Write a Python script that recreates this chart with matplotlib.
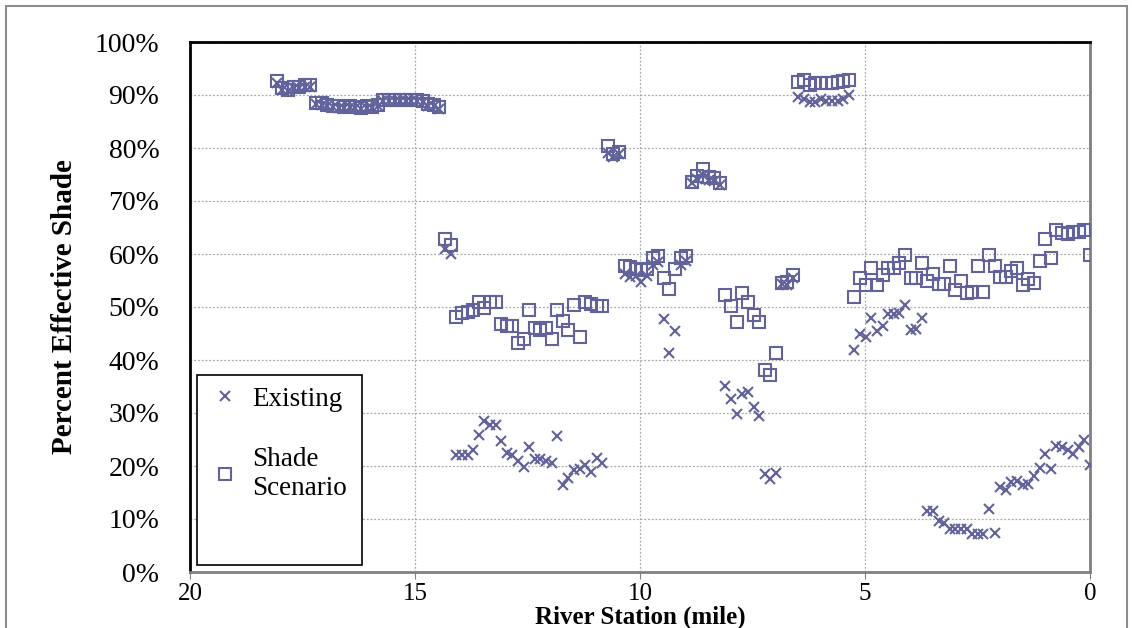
import numpy as np
import matplotlib
matplotlib.use("Agg")
import matplotlib.pyplot as plt
from matplotlib.patches import Rectangle
from matplotlib.ticker import PercentFormatter

# river stations (mile), evenly spaced sample points from upstream to mouth
station = np.linspace(18.07, 0.0, 146)

# percent effective shade (upstream -> downstream)
existing = [
    92.3, 91.0, 90.7, 91.3, 91.4, 91.6, 91.5, 88.3, 88.2, 87.9, 87.7, 87.6, 87.6, 87.7, 87.6,
    87.4, 87.6, 87.6, 87.9, 88.8, 88.8, 88.8, 88.8, 88.8, 88.8, 88.8, 88.6, 88.0, 87.9, 87.4,
    61.0, 60.0,
    22.0, 22.0, 22.0, 23.0, 25.8, 28.5, 27.8, 27.8, 24.8, 22.4, 22.0, 21.0, 19.9, 23.6, 21.3,
    21.3, 21.0, 20.6, 25.7, 16.5, 17.8, 19.2, 19.5, 20.2, 18.8, 21.6, 20.6,
    79.0, 78.3, 78.8,
    56.2, 55.6, 55.8, 54.8, 55.8, 58.0, 58.5, 47.7, 41.3, 45.5, 57.9, 58.6,
    73.4, 74.2, 75.0, 74.0, 73.8, 73.0,
    35.1, 32.7, 29.8, 33.6, 33.9, 31.2, 29.4, 18.5, 17.5, 18.7,
    54.3, 54.2, 55.4,
    89.7, 89.3, 88.6, 88.6, 89.2, 88.9, 88.9, 88.9, 89.2, 90.0,
    41.8, 45.0, 44.3, 47.9, 45.4, 46.4, 48.6, 48.6, 48.8, 50.3, 45.6, 45.9, 47.9,
    11.6, 11.6, 9.7, 9.3, 8.1, 8.1, 8.1, 8.1, 7.2, 7.2, 7.2, 11.9, 7.4, 16.1, 15.4,
    16.9, 17.1, 16.4, 16.6, 18.1, 19.7, 22.3, 19.4, 23.8, 23.5, 23.0, 22.3, 23.5, 25.0, 20.2,
]
shade_scenario = [
    92.6, 91.3, 90.9, 91.6, 91.6, 91.9, 91.8, 88.5, 88.5, 88.1, 87.9, 87.9, 87.8, 87.9, 87.8,
    87.6, 87.9, 87.8, 88.1, 89.0, 89.0, 89.0, 89.0, 89.0, 89.0, 89.0, 88.8, 88.3, 88.2, 87.7,
    62.9, 61.7,
    48.2, 48.9, 49.1, 49.4, 51.0, 49.8, 51.0, 51.0, 46.8, 46.4, 46.4, 43.3, 43.9, 49.4, 46.1,
    45.6, 46.1, 43.9, 49.4, 47.4, 45.6, 50.3, 44.3, 51.0, 50.5, 50.1, 50.1,
    80.3, 78.9, 79.3,
    57.7, 57.5, 57.2, 57.0, 57.2, 59.3, 59.6, 55.5, 53.4, 57.2, 59.3, 59.6,
    73.6, 74.8, 76.0, 74.6, 74.3, 73.4,
    52.2, 50.1, 47.2, 52.6, 51.0, 48.4, 47.2, 38.1, 37.2, 41.3,
    54.6, 54.8, 56.0,
    92.4, 92.8, 91.9, 92.2, 92.2, 92.2, 92.2, 92.4, 92.6, 92.8,
    51.9, 55.5, 54.1, 57.4, 54.1, 56.1, 57.4, 57.4, 58.3, 59.9, 55.4, 55.4, 58.3,
    55.0, 56.2, 54.3, 54.3, 57.8, 53.3, 55.0, 52.6, 52.8, 57.8, 52.8, 59.9, 57.8, 55.7, 55.7,
    56.8, 57.4, 54.1, 55.2, 54.6, 58.7, 62.8, 59.2, 64.5, 64.0, 63.7, 64.2, 64.2, 64.5, 59.9,
]

x_ticks = [20, 15, 10, 5, 0]
y_ticks = list(range(0, 101, 10))

plt.rcParams['font.family'] = ['Liberation Serif', 'DejaVu Serif']
color = '#62629C'

fig = plt.figure(figsize=(11.32, 6.28), dpi=100)
ax = fig.add_axes([190 / 1132, 1 - 572 / 628, 900 / 1132, 530 / 628])

ax.plot(station, existing, linestyle='none', marker='x', markersize=6.5,
        markeredgewidth=1.5, color=color, label='Existing', zorder=3)
ax.plot(station, shade_scenario, linestyle='none', marker='s', markersize=8.5,
        markeredgewidth=1.5, markerfacecolor='none', markeredgecolor=color,
        label='Shade\nScenario', zorder=3)

ax.set_xlim(20, 0)
ax.set_ylim(0, 100)
ax.set_xticks(x_ticks)
ax.set_yticks(y_ticks)
ax.yaxis.set_major_formatter(PercentFormatter(decimals=0))
ax.grid(True, color='#a8a8a8', linestyle=(0, (1.5, 1.5)), linewidth=0.9)
ax.tick_params(axis='x', length=5, color='#808080', labelsize=18, pad=3)
ax.tick_params(axis='y', length=0, labelsize=20, pad=22)

for side in ['top', 'left']:
    ax.spines[side].set_color('black')
    ax.spines[side].set_linewidth(2)
for side in ['right', 'bottom']:
    ax.spines[side].set_color('#808080')
    ax.spines[side].set_linewidth(2)

ax.set_xlabel('River Station (mile)', fontsize=18, fontweight='bold', labelpad=0)
ax.set_ylabel('Percent Effective Shade', fontsize=21, fontweight='bold', labelpad=12)

# legend box like the Excel original
box = Rectangle((0.008, 0.013), 0.183, 0.359, transform=ax.transAxes,
                facecolor='white', edgecolor='black', linewidth=1.2, zorder=5)
ax.add_patch(box)
leg = ax.legend(loc='upper left', bbox_to_anchor=(0.012, 0.37), frameon=False,
                fontsize=19.5, labelspacing=1.3, handletextpad=0.5, handlelength=1.0,
                borderaxespad=0)
leg.set_zorder(6)

# outer chart border
fig.patches.append(Rectangle((6 / 1132, -0.01), 1121 / 1132, 1 - 6 / 628 + 0.01,
                             transform=fig.transFigure, fill=False,
                             edgecolor='#8c8c8c', linewidth=1.5))

fig.savefig('out.png', dpi=100)
